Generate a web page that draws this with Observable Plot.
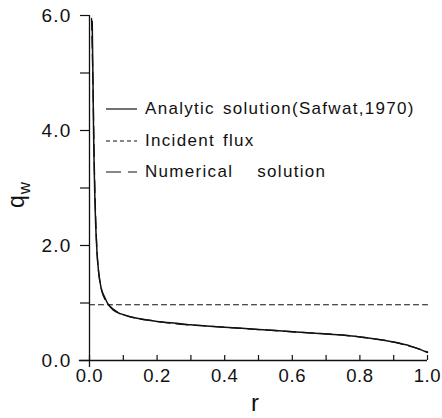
<!DOCTYPE html>
<html><head><meta charset="utf-8">
<script src="https://cdn.jsdelivr.net/npm/d3@7"></script>
<script src="https://cdn.jsdelivr.net/npm/@observablehq/plot@0.6"></script>
<style>
body{margin:0;background:#fff;}
#wrap{position:relative;width:442px;height:418px;font-family:"Liberation Sans",Arial,sans-serif;color:#111;}
#legend{position:absolute;left:105px;top:98px;font-size:17px;letter-spacing:1.3px;word-spacing:2px;line-height:1;}
#legend .row{position:absolute;left:0;white-space:pre;display:flex;align-items:center;}
#legend svg{margin-right:7px;}
</style></head><body><div id="wrap"></div>
<script>
// Analytic solution (Safwat, 1970)
const analyticR = [0.008,0.010,0.012,0.014,0.016,0.018,0.022,0.026,0.034,0.045,0.054,0.07,0.093,0.12,0.152,0.2,0.27,0.3,0.4,0.5,0.6,0.7,0.8,0.85,0.9,0.95,0.98,1.0];
const analyticQ = [5.9,5.0,4.0,3.3,2.8,2.4,1.9,1.6,1.27,1.1,0.99,0.88,0.81,0.76,0.72,0.68,0.64,0.62,0.58,0.54,0.50,0.46,0.41,0.37,0.32,0.25,0.19,0.14];
// Incident flux
const incidentR = [0,1];
const incidentQ = [0.97,0.97];
// Numerical solution
const numericalR = [0.006,0.010,0.015,0.020,0.030,0.050,0.10,0.20,0.40,0.60,0.80,0.90,1.0];
const numericalQ = [5.95,4.9,3.2,2.2,1.4,1.02,0.80,0.68,0.58,0.50,0.41,0.32,0.15];
// Ticks
const yTicks = [0,1,2,3,4,5,6];
const yLabels = ["0.0","","2.0","","4.0","","6.0"];
const xMinor = [0,0.1,0.2,0.3,0.4,0.5,0.6,0.7,0.8,0.9,1.0];
const xTicks = [0,0.2,0.4,0.6,0.8,1.0];
const xLabels = ["0.0","0.2","0.4","0.6","0.8","1.0"];
const legendItems = ["Analytic solution(Safwat,1970)","Incident flux","Numerical   solution"];

const ink = "#111";
const chart = Plot.plot({
  width: 442, height: 418,
  marginLeft: 89, marginRight: 15, marginTop: 15, marginBottom: 58,
  style: {fontFamily: '"Liberation Sans", Arial, sans-serif', color: ink, background: "#fff", letterSpacing: "1.2px"},
  x: {domain: [0,1]},
  y: {domain: [0,6]},
  marks: [
    Plot.axisY({ticks: yTicks, tickFormat: (d,i) => yLabels[yTicks.indexOf(d)], tickSize: 9, tickPadding: 9, fontSize: 19, label: null, stroke: ink, strokeWidth: 1.2}),
    Plot.axisX({ticks: xMinor, tickFormat: () => "", tickSize: -5, label: null, stroke: ink, strokeWidth: 1.2}),
    Plot.axisX({ticks: xTicks, tickFormat: d => xLabels[xTicks.indexOf(d)], tickSize: 0, tickPadding: 8, fontSize: 18.5, label: null}),
    Plot.ruleY([0], {x1: -0.03, x2: 1, stroke: ink, strokeWidth: 1.3}),
    Plot.ruleX([0], {y1: -0.12, y2: 6, stroke: ink, strokeWidth: 1.3}),
    Plot.line(incidentR, {x: incidentR, y: incidentQ, stroke: ink, strokeWidth: 1.1, strokeDasharray: "5,4"}),
    Plot.line(numericalR, {x: numericalR, y: numericalQ, stroke: ink, strokeWidth: 1.3, strokeDasharray: "12,6", curve: "monotone-x"}),
    Plot.line(analyticR, {x: analyticR, y: analyticQ, stroke: ink, strokeWidth: 1.5, curve: "monotone-x"})
  ]
});
const wrap = document.getElementById("wrap");
wrap.appendChild(chart);

// axis titles
const svg = d3.select(chart);
svg.selectAll('g[aria-label="x-axis tick label"]').style("letter-spacing", "0.6px");
const yl = svg.append("text")
  .attr("transform", "translate(24,195) rotate(-90)")
  .attr("fill", ink).attr("font-size", 23).style("letter-spacing","0px");
yl.append("tspan").text("q");
yl.append("tspan").attr("font-size", 17).attr("dy", 6).attr("dx", 1).text("w");
svg.append("text").attr("x", 255).attr("y", 411).attr("text-anchor","middle")
  .attr("font-size", 24).attr("fill", ink).style("letter-spacing","0px").text("r");

// legend
const leg = document.createElement("div");
leg.id = "legend";
const dashes = [null, "4,3", "15,7"];
const tops = [0, 32, 63];
legendItems.forEach((t,i) => {
  const row = document.createElement("div");
  row.className = "row";
  row.style.top = tops[i] + "px";
  const s = d3.create("svg").attr("width", 33).attr("height", 20);
  s.append("line").attr("x1",1).attr("x2",32).attr("y1",11).attr("y2",11)
    .attr("stroke", ink).attr("stroke-width", 1.2).attr("stroke-dasharray", dashes[i]);
  row.appendChild(s.node());
  const sp = document.createElement("span");
  sp.textContent = t;
  row.appendChild(sp);
  leg.appendChild(row);
});
wrap.appendChild(leg);
</script></body></html>
